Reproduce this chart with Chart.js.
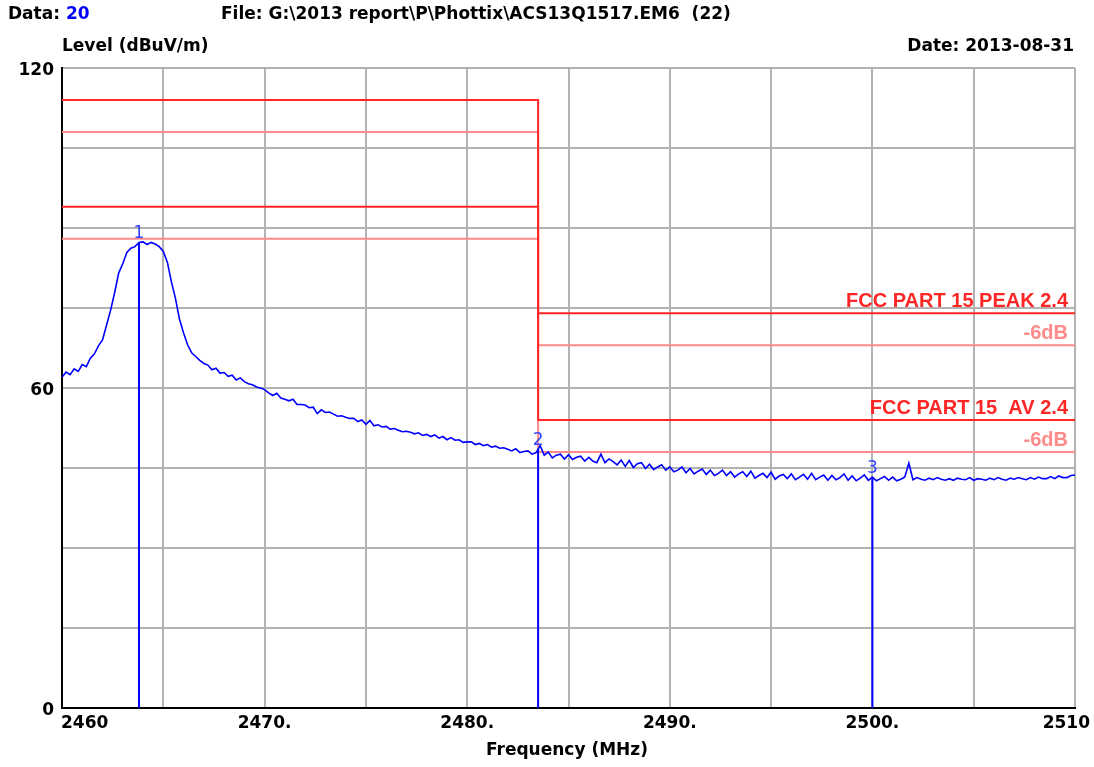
<!DOCTYPE html>
<html><head><meta charset="utf-8">
<script src="https://cdn.jsdelivr.net/npm/chart.js@4/dist/chart.umd.min.js"></script>
<style>html,body{margin:0;padding:0;background:#fff;}#wrap{width:1094px;height:767px;position:relative}</style>
</head><body><div id="wrap"><canvas id="c" width="1094" height="767"></canvas></div>
<script>
// ---- data ----
const sweepStart = 2460;      // MHz
const sweepStep = 0.2;        // MHz per sample
const traceLevel = [
62.0,63.0,62.5,63.6,63.1,64.4,64.0,65.6,66.4,67.9,
69.0,71.8,74.6,77.9,81.6,83.3,85.4,86.2,86.5,87.3,
87.4,86.9,87.3,87.0,86.5,85.6,83.6,79.9,76.8,72.9,
70.3,68.1,66.6,65.9,65.2,64.6,64.3,63.4,63.7,62.8,
62.9,62.2,62.4,61.5,61.9,61.2,60.8,60.6,60.2,60.0,
59.7,59.1,58.6,59.0,58.1,57.9,57.6,57.9,56.9,56.9,
56.8,56.3,56.4,55.2,55.9,55.4,55.5,55.1,54.7,54.8,
54.5,54.3,54.3,53.7,54.0,53.2,53.9,52.9,53.1,52.7,
52.8,52.3,52.4,52.1,51.8,51.9,51.7,51.4,51.6,51.1,
51.3,50.9,51.2,50.6,50.9,50.3,50.7,50.2,50.3,49.8,
49.9,49.9,49.4,49.6,49.2,49.4,48.9,49.1,48.7,48.8,
48.5,48.2,48.6,47.9,48.1,48.2,47.6,47.9,49.2,47.4,
48.0,46.9,47.4,47.6,46.7,47.5,46.6,47.0,47.2,46.3,
47.0,46.3,46.0,47.6,46.0,46.7,46.2,45.6,46.5,45.3,
46.4,45.1,45.8,46.0,44.9,45.7,44.7,45.2,45.6,44.6,
45.2,44.3,44.6,45.2,44.1,44.9,43.9,44.4,44.8,43.8,
44.6,43.6,44.0,44.6,43.6,44.3,43.3,43.9,44.3,43.4,
44.4,43.1,43.6,44.0,43.2,44.2,42.9,43.5,43.8,43.0,
43.9,42.8,43.3,43.8,42.9,44.0,42.8,43.3,43.7,42.7,
43.6,42.8,43.2,43.9,42.7,43.5,42.6,43.1,43.7,42.7,
43.3,42.6,43.0,43.4,42.7,43.3,42.6,42.9,43.3,45.9,
42.8,43.2,42.9,42.7,43.1,42.8,43.2,42.9,42.7,43.0,
42.7,43.1,42.9,42.8,43.2,42.7,43.0,42.9,42.7,43.1,
42.8,43.2,42.9,42.7,43.1,42.9,43.2,43.0,42.8,43.2,
42.9,43.3,43.0,43.0,43.4,43.0,43.5,43.2,43.2,43.6,43.7
];
const limitFreq = [2460, 2483.5, 2483.5, 2510];
const limitPeakLevel = [114, 114, 74, 74];
const limitPeak6Level = [108, 108, 68, 68];
const limitAvLevel = [94, 94, 54, 54];
const limitAv6Level = [88, 88, 48, 48];
const markerNames = ['1', '2', '3'];
const markerFreq = [2463.8, 2483.5, 2500.0];
const markerLevel = [87.3, 48.6, 43.3];
const xTickValues = [2460, 2470, 2480, 2490, 2500, 2510];
const xTickLabels = ['2460', '2470.', '2480.', '2490.', '2500.', '2510'];
const yTickLabels = { 0: '0', 60: '60', 120: '120' };
const limitLabels = [
  { text: 'FCC PART 15 PEAK 2.4', level: 74, strong: true },
  { text: '-6dB', level: 68, strong: false },
  { text: 'FCC PART 15  AV 2.4', level: 54, strong: true },
  { text: '-6dB', level: 48, strong: false }
];

// ---- styles ----
const RED = '#ff2626', PALE = '#ff8a8a', BLUE = '#0000ff', GRID = '#b2b2b2';
const TXT = 'bold 17px "DejaVu Sans"';

const pts = (xs, ys) => xs.map((x, i) => ({ x, y: ys[i] }));
const trace = traceLevel.map((v, i) => ({ x: sweepStart + i * sweepStep, y: v }));

const datasets = [
  { data: pts(limitFreq, limitPeak6Level), borderColor: PALE, borderWidth: 2, order: 6 },
  { data: pts(limitFreq, limitAv6Level), borderColor: PALE, borderWidth: 2, order: 6 },
  { data: pts(limitFreq, limitPeakLevel), borderColor: RED, borderWidth: 2, order: 5 },
  { data: pts(limitFreq, limitAvLevel), borderColor: RED, borderWidth: 2, order: 5 },
  { data: trace, borderColor: BLUE, borderWidth: 1.6, order: 2 }
];
markerFreq.forEach((f, i) => {
  datasets.push({ data: [{ x: f, y: 0 }, { x: f, y: markerLevel[i] }], borderColor: BLUE, borderWidth: 2, order: 1 });
});
datasets.forEach(d => { d.pointRadius = 0; d.tension = 0; d.fill = false; });

const textPlugin = {
  id: 'texts',
  afterDraw(chart) {
    const ctx = chart.ctx, xs = chart.scales.x, ys = chart.scales.y;
    ctx.save();
    ctx.textBaseline = 'middle';
    ctx.font = TXT;
    ctx.fillStyle = '#000';
    ctx.textAlign = 'left';
    ctx.fillText('Data: ', 8, 15);
    const w = ctx.measureText('Data: ').width;
    ctx.fillStyle = BLUE;
    ctx.fillText('20', 8 + w, 15);
    ctx.fillStyle = '#000';
    ctx.fillText('File: G:\\2013 report\\P\\Phottix\\ACS13Q1517.EM6  (22)', 221, 15);
    ctx.fillText('Level (dBuV/m)', 62, 47);
    ctx.textAlign = 'right';
    ctx.fillText('Date: 2013-08-31', 1074, 47);
    // x tick labels
    xTickValues.forEach((v, i) => {
      const px = xs.getPixelForValue(v);
      if (i === 0) { ctx.textAlign = 'left'; ctx.fillText(xTickLabels[i], px - 1, 724); }
      else if (i === xTickValues.length - 1) { ctx.textAlign = 'right'; ctx.fillText(xTickLabels[i], px + 15, 724); }
      else { ctx.textAlign = 'center'; ctx.fillText(xTickLabels[i], px, 724); }
    });
    ctx.textAlign = 'center';
    ctx.fillText('Frequency (MHz)', 567, 751);
    // limit labels
    ctx.font = 'bold 20px "Liberation Sans"';
    ctx.textAlign = 'right';
    ctx.textBaseline = 'alphabetic';
    limitLabels.forEach(l => {
      ctx.fillStyle = l.strong ? RED : PALE;
      ctx.fillText(l.text, 1068, ys.getPixelForValue(l.level) - 6);
    });
    // marker labels
    ctx.font = '17px "DejaVu Sans"';
    ctx.fillStyle = '#3344ff';
    ctx.textAlign = 'center';
    markerNames.forEach((n, i) => {
      ctx.fillText(n, xs.getPixelForValue(markerFreq[i]), ys.getPixelForValue(markerLevel[i]) - 4);
    });
    ctx.restore();
  }
};

new Chart(document.getElementById('c'), {
  type: 'line',
  data: { datasets },
  options: {
    responsive: false,
    animation: false,
    events: [],
    layout: { padding: { left: 16, top: 68, right: 19, bottom: 59 } },
    plugins: { legend: { display: false }, tooltip: { enabled: false } },
    scales: {
      x: {
        type: 'linear', min: 2460, max: 2510,
        ticks: { stepSize: 5, display: false },
        grid: { color: GRID, lineWidth: 2, drawTicks: false },
        border: { color: '#000', width: 2 },
        afterFit: s => { s.height = 0; }
      },
      y: {
        min: 0, max: 120,
        ticks: {
          stepSize: 15, color: '#000', padding: 8, labelOffset: 3,
          font: { family: 'DejaVu Sans', weight: 'bold', size: 17 },
          callback: v => (yTickLabels[v] !== undefined ? yTickLabels[v] : '')
        },
        grid: { color: GRID, lineWidth: 2, drawTicks: false },
        border: { color: '#000', width: 2 },
        afterFit: s => { s.width = 46; }
      }
    }
  },
  plugins: [textPlugin]
});
</script></body></html>
